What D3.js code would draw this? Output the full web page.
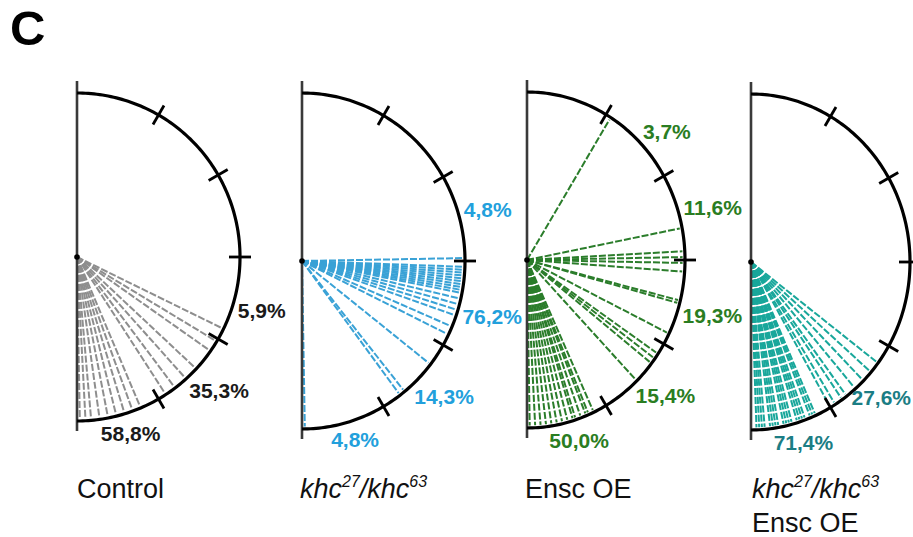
<!DOCTYPE html>
<html>
<head>
<meta charset="utf-8">
<script src="https://cdn.jsdelivr.net/npm/d3@7"></script>
<style>
  html, body { margin: 0; padding: 0; background: #fff; }
  svg { display: block; }
</style>
</head>
<body>
<svg id="chart" width="913" height="537"></svg>
<script>
// ---------------- DATA ----------------
const panelNames = ["Control", "khc27/khc63", "Ensc OE", "khc27/khc63 Ensc OE"];
// sector boundaries (degrees from the top of the semicircle, clockwise)
const sectorTicks = [0, 30, 60, 90, 120, 150, 180];
// angle (degrees) of every measured line per panel
const controlAngles = [116, 121, 125, 133, 138, 143, 147, 157, 160, 163, 166, 169, 172, 175, 177, 179, 180];
const khcAngles = [89, 92, 93, 94, 95, 96, 97, 98, 99, 100, 101, 103, 105, 107, 109, 113, 116, 128, 141, 143, 179];
const enscAngles = [32, 79, 87, 89, 91, 94, 104, 105, 116, 124, 126, 128, 136,
  155, 157, 158, 160, 162, 163, 165, 167, 169, 171, 173, 175, 177, 179];
const khcEnscAngles = [127, 131, 135, 139, 143, 145, 148, 150,
  156, 157, 158, 160, 161, 162, 163, 165, 166, 167, 168, 170, 171, 172, 173, 175, 176, 177, 178, 180];
// percentage labels per 30° sector (0-30, 30-60, 60-90, 90-120, 120-150, 150-180)
const controlPct = ["", "", "", "5,9%", "35,3%", "58,8%"];
const khcPct = ["", "", "4,8%", "76,2%", "14,3%", "4,8%"];
const enscPct = ["", "3,7%", "11,6%", "19,3%", "15,4%", "50,0%"];
const khcEnscPct = ["", "", "", "", "27,6%", "71,4%"];

// ---------------- STYLE / LAYOUT ----------------
const labelAngle = [15, 49, 75, 106, 133, 163];
const panels = [
  { angles: controlAngles, pct: controlPct, line: "#8e8e8e", text: "#1a1a1a", cx: 77, cy: 257, rx: 163, ry: 164 },
  { angles: khcAngles, pct: khcPct, line: "#3aa2d6", text: "#22a0dc", cx: 302, cy: 261, rx: 163, ry: 168 },
  { angles: enscAngles, pct: enscPct, line: "#2b7d2b", text: "#2a7d22", cx: 527, cy: 260, rx: 158, ry: 168 },
  { angles: khcEnscAngles, pct: khcEnscPct, line: "#19a79b", text: "#1b7d84", cx: 751, cy: 262, rx: 159, ry: 168 }
];

const svg = d3.select("#chart");
const angle = d3.scaleLinear().domain([0, 180]).range([0, Math.PI]);
const fontFam = "Liberation Sans, Arial, sans-serif";

// panel letter
svg.append("text").attr("x", 10).attr("y", 45)
  .attr("font-family", fontFam)
  .attr("font-weight", "bold").attr("font-size", 49).attr("fill", "#000").text("C");

panels.forEach((p, i) => {
  const g = svg.append("g");
  const pt = (deg, k) => {
    const a = angle(deg);
    return [p.cx + p.rx * k * Math.sin(a), p.cy - p.ry * k * Math.cos(a)];
  };

  // radial dashed lines
  g.selectAll("line.ray").data(p.angles).enter().append("line")
    .attr("class", "ray")
    .attr("x1", p.cx).attr("y1", p.cy)
    .attr("x2", d => pt(d, 0.985)[0]).attr("y2", d => pt(d, 0.985)[1])
    .attr("stroke", p.line).attr("stroke-width", 2)
    .attr("stroke-dasharray", "7,2");

  // vertical axis
  g.append("line")
    .attr("x1", p.cx).attr("x2", p.cx)
    .attr("y1", p.cy - p.ry - 12).attr("y2", p.cy + p.ry + 10)
    .attr("stroke", "#3a3a3a").attr("stroke-width", 2.6);

  // semicircle
  const arcLine = d3.line().curve(d3.curveLinear);
  const arcPts = d3.range(0, 180.5, 1).map(d => pt(d, 1));
  g.append("path").attr("d", arcLine(arcPts))
    .attr("fill", "none").attr("stroke", "#000").attr("stroke-width", 3.2);

  // ticks
  g.selectAll("line.tick").data(sectorTicks.slice(1, -1)).enter().append("line")
    .attr("class", "tick")
    .attr("x1", d => pt(d, 1 - 11 / p.rx)[0]).attr("y1", d => pt(d, 1 - 11 / p.ry)[1])
    .attr("x2", d => pt(d, 1 + 11 / p.rx)[0]).attr("y2", d => pt(d, 1 + 11 / p.ry)[1])
    .attr("stroke", "#000").attr("stroke-width", 2.8);

  // centre dot
  g.append("circle").attr("cx", p.cx).attr("cy", p.cy).attr("r", 2.8).attr("fill", "#000");

  // percentage labels
  const labelData = p.pct.map((t, j) => ({ t, deg: labelAngle[j] })).filter(d => d.t);
  g.selectAll("text.pct").data(labelData).enter().append("text")
    .attr("class", "pct")
    .attr("font-family", fontFam)
    .attr("font-weight", "bold").attr("font-size", 21)
    .attr("fill", p.text).attr("text-anchor", "middle")
    .text(d => d.t)
    .each(function (d) {
      const w = this.getComputedTextLength() / 2, h = 8;
      const a = angle(d.deg);
      const s = Math.abs(Math.sin(a)), c = Math.abs(Math.cos(a));
      const extra = 4 + w * s + h * c;
      let x = p.cx + (p.rx + extra) * Math.sin(a);
      const y = p.cy - (p.ry + extra) * Math.cos(a);
      x = Math.min(x, 911 - w);
      d3.select(this).attr("x", x).attr("y", y + 7.5);
    });
});

// panel names
function khcLabel(x, y) {
  const t = svg.append("text").attr("x", x).attr("y", y)
    .attr("font-family", fontFam).attr("font-size", 27).attr("font-style", "italic").attr("fill", "#111");
  t.append("tspan").text("khc");
  t.append("tspan").attr("font-size", 16).attr("dy", -11).text("27");
  t.append("tspan").attr("dy", 11).text("/khc");
  t.append("tspan").attr("font-size", 16).attr("dy", -11).text("63");
}
svg.append("text").attr("x", 77).attr("y", 498).attr("font-family", fontFam)
  .attr("font-size", 27).attr("fill", "#111").text(panelNames[0]);
khcLabel(300, 498);
svg.append("text").attr("x", 525).attr("y", 498).attr("font-family", fontFam)
  .attr("font-size", 27).attr("fill", "#111").text(panelNames[2]);
khcLabel(752, 498);
svg.append("text").attr("x", 752).attr("y", 532).attr("font-family", fontFam)
  .attr("font-size", 27).attr("fill", "#111").text("Ensc OE");
</script>
</body>
</html>
